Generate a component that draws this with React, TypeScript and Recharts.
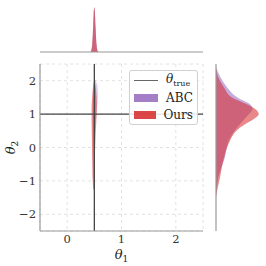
import { Area, AreaChart, CartesianGrid, ComposedChart, ReferenceLine, XAxis, YAxis } from 'recharts';

// top marginal (theta_1)
const topX = [-0.5, 0.42, 0.44, 0.46, 0.48, 0.49, 0.5, 0.51, 0.52, 0.54, 0.56, 0.58, 2.5];
const topAbc = [0, 0, 0.03, 0.18, 0.62, 0.9, 1.0, 0.88, 0.6, 0.16, 0.03, 0, 0];
const topOurs = [0, 0, 0.02, 0.15, 0.6, 0.92, 0.98, 0.9, 0.62, 0.18, 0.02, 0, 0];

// right marginal (theta_2)
const sideY = [2.4, 2.1, 1.8, 1.5, 1.3, 1.15, 1.0, 0.85, 0.7, 0.5, 0.25, 0, -0.3, -0.6, -0.9, -1.2, -1.5];
const sideAbc = [0, 0.1, 0.25, 0.48, 0.76, 0.82, 0.74, 0.64, 0.54, 0.42, 0.3, 0.24, 0.2, 0.12, 0.05, 0.02, 0];
const sideOurs = [0, 0.05, 0.18, 0.36, 0.68, 0.88, 0.96, 0.85, 0.66, 0.46, 0.33, 0.25, 0.18, 0.13, 0.09, 0.04, 0];

// joint density band (main panel)
const bandY = [2.05, 1.8, 1.5, 1.2, 0.9, 0.6, 0.3, 0, -0.3, -0.6, -0.9, -1.25];
const oursLo = [0.5, 0.475, 0.46, 0.45, 0.45, 0.452, 0.455, 0.457, 0.46, 0.463, 0.467, 0.48];
const oursHi = [0.5, 0.525, 0.54, 0.545, 0.54, 0.53, 0.522, 0.515, 0.51, 0.505, 0.502, 0.497];
const abcLo = [0.51, 0.495, 0.485, 0.48, 0.478, 0.48, 0.485, 0.49, 0.495, 0.5, 0.5, 0.5];
const abcHi = [0.51, 0.56, 0.565, 0.55, 0.53, 0.515, 0.505, 0.5, 0.5, 0.5, 0.5, 0.5];

const thetaTrue = [0.5, 1];
const xTicks = [0, 1, 2];
const xTickLabels = ['0', '1', '2'];
const yTicks = [-2, -1, 0, 1, 2];
const yTickLabels = ['\u22122', '\u22121', '0', '1', '2'];

const ABC = '#9467bd';
const OURS = '#d62728';
const SPINE = '#9a9a9a';
const FONT = '"DejaVu Serif", serif';

const topData = topX.map((x, i) => ({ x, abc: topAbc[i], ours: topOurs[i] }));
const sideData = sideY.map((y, i) => ({ y, abc: sideAbc[i], ours: sideOurs[i] }));
const bandData = bandY.map((y, i) => ({ y, ours: [oursLo[i], oursHi[i]], abc: [abcLo[i], abcHi[i]] }));

function LegendBox() {
  const row = { display: 'flex', alignItems: 'center', height: 17 } as const;
  const patch = (c: string) => ({ width: 24, height: 8, background: c, opacity: 0.85, marginRight: 8 });
  return (
    <div
      style={{
        position: 'absolute',
        left: 129,
        top: 70,
        border: '1px solid #d0d0d0',
        borderRadius: 3,
        background: 'rgba(255,255,255,0.85)',
        padding: '1px 4px 1px 4px',
        fontFamily: FONT,
        fontSize: 12,
        color: '#222',
        width: 59,
      }}
    >
      <div style={row}>
        <div style={{ width: 24, height: 0, borderTop: '1.5px solid #666', marginRight: 8 }} />
        <span>
          <i>θ</i>
          <sub style={{ fontSize: 8 }}>true</sub>
        </span>
      </div>
      <div style={row}>
        <div style={patch(ABC)} />
        <span>ABC</span>
      </div>
      <div style={row}>
        <div style={patch(OURS)} />
        <span>Ours</span>
      </div>
    </div>
  );
}

function XLabel({ viewBox }: any) {
  const cx = viewBox.x + viewBox.width / 2;
  return (
    <text x={cx} y={259} textAnchor="middle" fontFamily={FONT} fontSize={13} fill="#222">
      <tspan fontStyle="italic">θ</tspan>
      <tspan fontSize={9} dy={3}>1</tspan>
    </text>
  );
}

function YLabel({ viewBox }: any) {
  const cy = viewBox.y + viewBox.height / 2;
  return (
    <text x={15} y={cy} transform={`rotate(-90 15 ${cy})`} textAnchor="middle" fontFamily={FONT} fontSize={13} fill="#222">
      <tspan fontStyle="italic">θ</tspan>
      <tspan fontSize={9} dy={3}>2</tspan>
    </text>
  );
}

export default function App() {
  const tickStyle = { fontFamily: FONT, fontSize: 11.5, fill: '#333' };
  return (
    <div style={{ position: 'absolute', left: 0, top: 0, width: 266, height: 266, background: '#fff' }}>
      <div style={{ position: 'absolute', left: 40, top: 0 }}>
        <AreaChart width={163} height={53} data={topData} margin={{ top: 0, right: 0, bottom: 1, left: 0 }}>
          <XAxis type="number" dataKey="x" domain={[-0.5, 2.5]} hide />
          <YAxis type="number" domain={[0, 1.15]} hide />
          <Area type="monotone" dataKey="abc" stroke="none" fill={ABC} fillOpacity={0.55} isAnimationActive={false} />
          <Area type="monotone" dataKey="ours" stroke="none" fill={OURS} fillOpacity={0.55} isAnimationActive={false} />
          <ReferenceLine y={0} stroke={SPINE} strokeWidth={1.2} />
        </AreaChart>
      </div>

      <div style={{ position: 'absolute', left: 0, top: 0 }}>
        <ComposedChart
          layout="vertical"
          width={215}
          height={266}
          data={bandData}
          margin={{ top: 64, right: 12, bottom: 0, left: 0 }}
        >
          <CartesianGrid stroke="#e2e2e2" strokeDasharray="3 3" />
          <XAxis
            type="number"
            domain={[-0.5, 2.5]}
            ticks={xTicks}
            tickFormatter={(v: number) => xTickLabels[xTicks.indexOf(v)]}
            tick={tickStyle}
            tickLine={false}
            tickSize={0}
            tickMargin={4}
            height={35}
            axisLine={{ stroke: SPINE, strokeWidth: 1.2 }}
            allowDataOverflow
            label={<XLabel />}
          />
          <YAxis
            type="number"
            dataKey="y"
            domain={[-2.5, 2.5]}
            reversed
            ticks={yTicks}
            tickFormatter={(v: number) => yTickLabels[yTicks.indexOf(v)]}
            tick={tickStyle}
            tickLine={false}
            tickSize={0}
            tickMargin={4}
            width={40}
            axisLine={{ stroke: SPINE, strokeWidth: 1.2 }}
            allowDataOverflow
            label={<YLabel />}
          />
          <Area type="monotone" dataKey="abc" stroke="none" fill={ABC} fillOpacity={0.35} isAnimationActive={false} />
          <Area type="monotone" dataKey="ours" stroke="none" fill={OURS} fillOpacity={0.55} isAnimationActive={false} />
          <ReferenceLine x={thetaTrue[0]} stroke="#444" strokeWidth={1.3} />
          <ReferenceLine y={thetaTrue[1]} stroke="#444" strokeWidth={1.3} />
        </ComposedChart>
      </div>

      <div style={{ position: 'absolute', left: 215, top: 64 }}>
        <ComposedChart
          layout="vertical"
          width={50}
          height={168}
          data={sideData}
          margin={{ top: 0, right: 0, bottom: 1, left: 1 }}
        >
          <XAxis type="number" domain={[0, 1.1]} hide />
          <YAxis type="number" dataKey="y" domain={[-2.5, 2.5]} reversed hide />
          <Area type="monotone" dataKey="abc" stroke="none" fill={ABC} fillOpacity={0.55} isAnimationActive={false} />
          <Area type="monotone" dataKey="ours" stroke="none" fill={OURS} fillOpacity={0.55} isAnimationActive={false} />
          <ReferenceLine x={0} stroke={SPINE} strokeWidth={1.2} />
        </ComposedChart>
      </div>

      <LegendBox />
    </div>
  );
}
